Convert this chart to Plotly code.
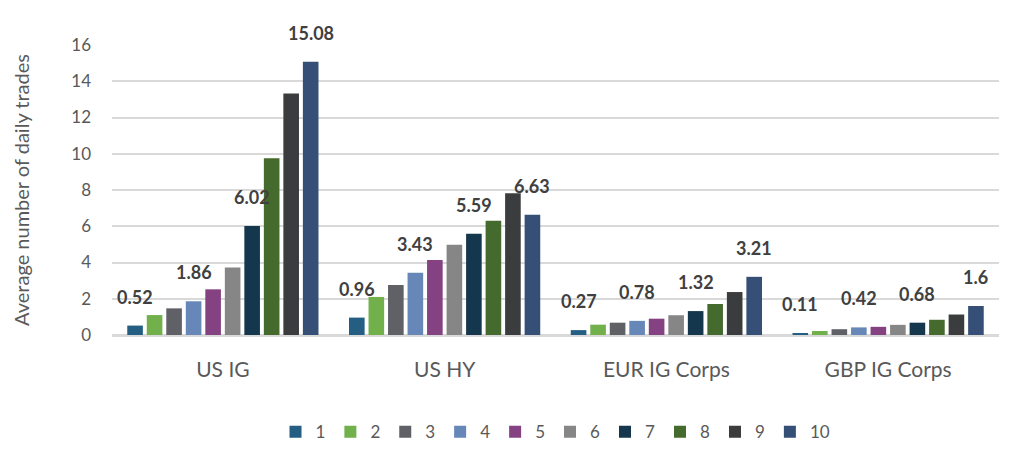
import plotly.graph_objects as go

categories = ["US IG", "US HY", "EUR IG Corps", "GBP IG Corps"]
series_names = ["1", "2", "3", "4", "5", "6", "7", "8", "9", "10"]
s1 = [0.52, 0.96, 0.27, 0.11]
s2 = [1.10, 2.10, 0.57, 0.22]
s3 = [1.47, 2.76, 0.68, 0.32]
s4 = [1.86, 3.43, 0.78, 0.42]
s5 = [2.52, 4.14, 0.90, 0.45]
s6 = [3.73, 4.98, 1.09, 0.56]
s7 = [6.02, 5.59, 1.32, 0.68]
s8 = [9.75, 6.31, 1.71, 0.84]
s9 = [13.33, 7.82, 2.37, 1.13]
s10 = [15.08, 6.63, 3.21, 1.60]
series_values = [s1, s2, s3, s4, s5, s6, s7, s8, s9, s10]
labelled_series = [0, 3, 6, 9]
y_ticks = [0, 2, 4, 6, 8, 10, 12, 14, 16]

colors = ["#255E83", "#72B04C", "#5F6166", "#6787B8", "#844283",
          "#868686", "#15374D", "#456A2D", "#3B3C3E", "#354F77"]

FONT = "Lato, Calibri, 'Liberation Sans', sans-serif"
BARGAP = 0.12

fig = go.Figure()
for name, vals, c in zip(series_names, series_values, colors):
    fig.add_trace(go.Bar(x=categories, y=vals, name=name, marker_color=c,
                         marker_line_width=0))

# data labels above selected series
W, L, R = 1019, 112, 20
plot_w = W - L - R
cat_w = plot_w / len(categories)
slot = cat_w * (1 - BARGAP) / len(series_values)
for si in labelled_series:
    for cat, v in zip(categories, series_values[si]):
        txt = f"{v:g}"
        fig.add_annotation(x=cat, y=v, text=f"<b>{txt}</b>", showarrow=False,
                           xshift=(si - 4.5) * slot, yshift=29,
                           font=dict(family=FONT, size=18, color="#404040"))

fig.update_layout(
    width=1019, height=455,
    barmode="group", bargap=BARGAP, bargroupgap=0.2,
    plot_bgcolor="white", paper_bgcolor="white",
    margin=dict(l=L, r=R, t=45, b=120),
    font=dict(family=FONT, color="#595959"),
    showlegend=True,
    legend=dict(orientation="h", x=0.5, xanchor="center",
                yref="container", y=0.05, yanchor="middle",
                font=dict(size=17, color="#595959"), itemwidth=30,
                traceorder="normal"),
    xaxis=dict(tickfont=dict(size=21, color="#595959"), showline=True,
               linecolor="#d9d9d9", linewidth=1.5, ticklabelstandoff=15,
               automargin=False),
    yaxis=dict(range=[0, 16], tickvals=y_ticks, tickfont=dict(size=17, color="#595959"),
               showgrid=True, gridcolor="#d9d9d9", gridwidth=1.5,
               zeroline=True, zerolinecolor="#d9d9d9", zerolinewidth=1.5,
               ticklabelstandoff=20, automargin=False,
               title=dict(text="Average number of daily trades",
                          font=dict(size=20, color="#595959"), standoff=36)),
)

fig.write_html("out.html")
